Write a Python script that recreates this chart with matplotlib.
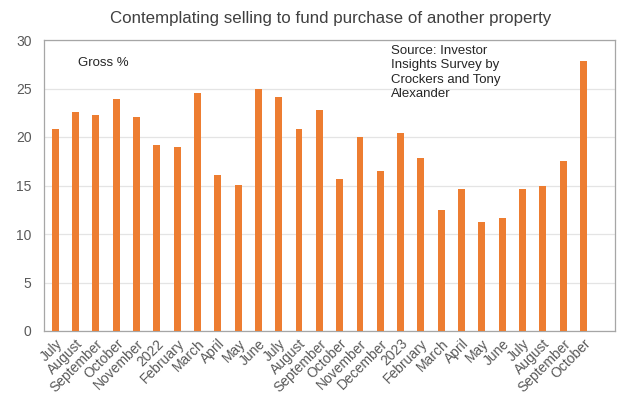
import matplotlib.pyplot as plt

months = ['July', 'August', 'September', 'October', 'November', '2022',
          'February', 'March', 'April', 'May', 'June', 'July', 'August',
          'September', 'October', 'November', 'December', '2023', 'February',
          'March', 'April', 'May', 'June', 'July', 'August', 'September',
          'October']
gross = [20.8, 22.6, 22.3, 23.9, 22.1, 19.2, 19.0, 24.5, 16.1, 15.1, 25.0,
         24.1, 20.8, 22.8, 15.7, 20.0, 16.5, 20.4, 17.8, 12.5, 14.6, 11.2,
         11.7, 14.6, 15.0, 17.5, 27.8]

plt.rcParams['font.family'] = ['Liberation Sans', 'DejaVu Sans']

fig = plt.figure(figsize=(6.18, 3.94), dpi=100)
ax = fig.add_axes([44 / 618, 1 - 331 / 394, 571 / 618, 291 / 394])

x = range(len(months))
ax.bar(x, gross, width=0.34, color='#ED7D31', zorder=3)

ax.set_xlim(-0.55, 27.55)
ax.set_ylim(0, 30)
ax.set_yticks(range(0, 31, 5))
ax.grid(axis='y', color='#e4e4e4', linewidth=0.9, zorder=0)
ax.set_xticks(list(x))
ax.set_xticklabels(months, rotation=45, ha='right', rotation_mode='anchor')
ax.tick_params(axis='both', length=0, labelsize=10, colors='#595959')
ax.tick_params(axis='x', pad=4)
ax.tick_params(axis='y', pad=9)
for sp in ax.spines.values():
    sp.set_color('#a6a6a6')
    sp.set_linewidth(0.9)

# annotations placed in figure coordinates
fig.text(78 / 618, 1 - 63 / 394, 'Gross %', fontsize=9.5, va='center',
         ha='left', color='#262626')
fig.text(391 / 618, 1 - 45 / 394,
         'Source: Investor\nInsights Survey by\nCrockers and Tony\nAlexander',
         fontsize=9.5, va='top', ha='left', color='#262626', linespacing=1.25)

fig.suptitle('Contemplating selling to fund purchase of another property',
             x=0.535, y=1 - 18 / 394, va='center', fontsize=12.2,
             color='#404040')

fig.savefig('out.png', dpi=100)
